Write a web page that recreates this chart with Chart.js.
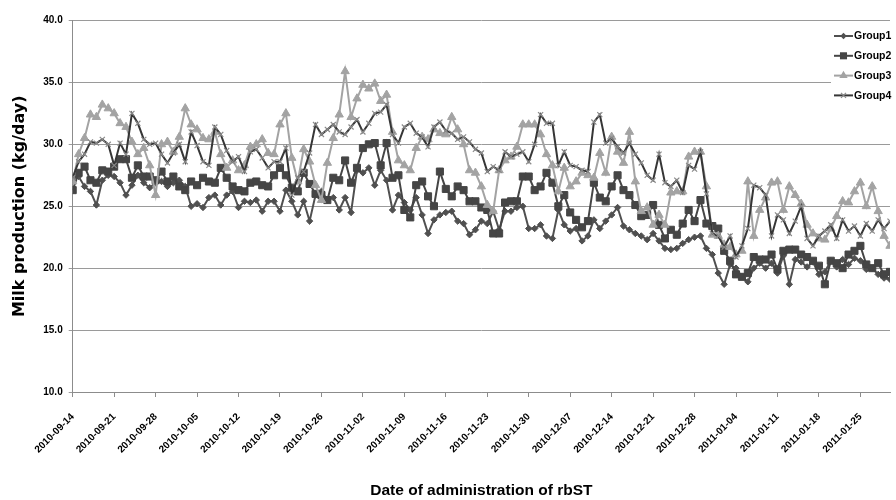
<!DOCTYPE html>
<html><head><meta charset="utf-8">
<style>html,body{margin:0;padding:0;background:#fff;}#wrap{width:896px;height:500px;position:relative;}</style>
<script src="https://cdn.jsdelivr.net/npm/chart.js@4.4.1/dist/chart.umd.min.js"></script>
</head><body><div id="wrap"><canvas id="c" width="896" height="500"></canvas></div>
<script>
// ---- data ----
const xTickLabels = ['2010-09-14','2010-09-21','2010-09-28','2010-10-05','2010-10-12','2010-10-19','2010-10-26','2010-11-02','2010-11-09','2010-11-16','2010-11-23','2010-11-30','2010-12-07','2010-12-14','2010-12-21','2010-12-28','2011-01-04','2011-01-11','2011-01-18','2011-01-25'];
const yTickLabels = ['10.0','15.0','20.0','25.0','30.0','35.0','40.0'];
const seriesNames = ['Group1','Group2','Group3','Group4'];
const group1 = [27.3,27.4,26.6,26.2,25.1,27.1,27.5,27.4,26.9,25.9,26.7,27.5,26.9,26.5,26.9,27.0,26.6,26.9,27.1,26.6,25.0,25.2,
24.9,25.7,25.9,25.1,25.9,26.2,24.9,25.4,25.3,25.5,24.6,25.4,25.4,24.6,26.3,25.4,24.3,25.4,23.8,25.9,26.2,
25.5,25.7,24.7,25.7,24.5,27.9,27.7,28.1,26.7,27.9,27.1,24.7,25.9,25.3,24.7,25.7,24.3,22.8,23.9,24.3,24.5,
24.6,23.8,23.6,22.7,23.1,23.8,23.6,24.6,23.1,24.6,24.6,24.9,25.0,23.2,23.2,23.5,22.6,22.4,24.7,23.5,23.0,
23.2,22.2,22.6,23.9,23.2,23.8,24.3,24.9,23.4,23.1,22.8,22.6,22.3,22.8,22.2,21.6,21.5,21.6,22.0,22.3,22.5,
22.6,21.6,21.1,19.6,18.7,20.3,20.0,19.3,18.9,20.0,20.4,20.0,20.4,19.6,21.0,18.7,20.7,20.5,20.1,20.5,19.5,
19.7,20.6,20.1,20.7,20.3,20.8,20.6,19.9,20.0,19.5,19.2,19.1];
const group2 = [26.3,27.7,28.2,27.1,26.9,27.9,27.8,28.2,28.8,28.8,27.3,28.3,27.4,27.4,27.1,27.8,27.0,27.4,26.6,26.3,27.0,26.7,
27.3,27.0,26.9,28.1,27.3,26.6,26.3,26.2,26.9,27.0,26.7,26.6,27.5,28.1,27.5,26.5,26.2,27.7,26.8,26.0,25.9,
25.5,27.3,27.1,28.7,26.9,28.1,29.7,30.0,30.1,28.3,30.1,27.3,27.5,24.7,24.1,26.7,27.0,25.8,25.0,27.8,26.4,
25.8,26.6,26.3,25.4,25.4,24.9,24.7,22.8,22.8,25.3,25.4,25.4,27.4,27.4,26.3,26.6,27.7,26.9,25.0,25.9,24.5,
23.9,23.3,23.8,26.9,25.7,25.4,26.6,27.5,26.3,25.9,25.1,24.2,24.3,25.1,23.5,22.4,23.1,22.7,23.6,24.7,23.8,
25.5,23.6,23.4,23.2,21.4,20.6,19.5,19.3,19.6,20.9,20.7,20.7,21.1,19.9,21.4,21.5,21.5,21.1,20.9,20.6,20.2,
18.7,20.6,20.4,20.0,21.1,21.4,21.8,20.3,20.0,20.4,19.5,19.7];
const group3 = [27.0,29.2,30.5,32.4,32.2,33.2,32.9,32.5,31.7,31.4,30.2,29.2,29.7,28.3,25.9,30.0,30.2,29.4,30.6,32.9,31.6,31.2,
30.5,30.4,31.0,29.2,28.1,28.7,27.9,28.3,29.8,30.0,30.4,29.3,29.2,31.6,32.5,28.9,27.0,29.6,28.6,26.7,25.5,
28.5,30.5,32.4,35.9,32.2,33.7,34.8,34.5,34.9,33.5,34.0,31.0,28.7,28.3,27.9,29.7,30.6,30.4,31.2,30.9,30.8,
32.2,31.2,30.0,27.9,27.7,26.6,25.1,24.6,27.9,28.7,29.0,29.8,31.6,31.6,31.6,30.8,29.2,28.3,26.2,28.1,26.6,
27.0,27.7,27.5,27.3,29.3,27.7,30.6,29.4,28.5,31.0,27.0,24.6,24.9,23.5,24.3,23.5,26.1,26.2,26.2,29.0,29.4,
29.4,26.6,22.7,22.6,21.9,21.7,21.1,21.4,27.0,22.6,24.7,25.7,26.9,27.0,24.7,26.6,25.9,25.2,23.5,22.8,22.4,
22.3,23.2,24.2,25.4,25.3,26.2,26.9,25.0,26.6,24.6,22.6,21.8];
const group4 = [27.3,28.6,29.2,30.2,30.1,30.4,30.0,28.3,30.1,29.2,32.5,31.7,30.4,30.0,30.1,29.2,28.5,29.3,30.0,28.6,31.0,29.9,
28.6,28.3,31.4,30.8,29.5,28.6,29.0,27.8,29.4,29.6,28.9,28.1,28.6,28.6,29.7,25.9,27.3,27.8,29.3,31.6,30.8,
31.2,31.6,31.0,30.8,31.4,32.0,31.0,31.7,32.5,32.6,33.2,30.8,30.1,31.4,31.7,30.9,30.6,29.8,31.4,31.8,31.1,
30.9,30.4,30.6,30.2,29.6,29.3,27.8,28.2,27.9,29.4,29.0,29.2,29.4,28.6,30.0,32.4,31.7,31.7,28.3,29.4,28.3,
28.2,27.9,27.8,31.8,32.4,30.1,30.5,29.8,29.3,30.1,29.2,28.5,27.5,27.1,29.2,26.9,26.6,27.1,26.1,28.3,28.0,
29.4,26.0,22.8,22.6,21.7,22.6,20.9,21.8,23.2,26.7,26.5,25.9,22.6,24.3,23.9,22.8,23.8,25.0,22.4,21.8,22.6,
23.0,23.5,22.4,23.9,23.0,23.4,22.6,23.6,23.0,23.9,23.2,23.8];

// ---- styles ----
const styles = [
  {line:'#505050', fill:'#505050', point:'rectRot', r:3.2, pw:1, order:4},
  {line:'#454545', fill:'#454545', point:'rect', r:5, pw:1, order:3},
  {line:'#a3a3a3', fill:'#a3a3a3', point:'triangle', r:4.8, pw:1, order:2},
  {line:'#363636', fill:'#8a8a8a', point:'crossRot', r:3.6, pw:1.2, order:1}
];
const allSeries = [group1, group2, group3, group4];
const datasets = allSeries.map((arr, k) => ({
  label: seriesNames[k],
  data: arr.map((v, i) => ({x: i, y: v})),
  borderColor: styles[k].line,
  backgroundColor: styles[k].fill,
  pointBackgroundColor: styles[k].fill,
  pointBorderColor: styles[k].fill,
  pointBorderWidth: styles[k].pw,
  pointStyle: styles[k].point,
  pointRadius: styles[k].r,
  borderWidth: 2,
  tension: 0,
  order: styles[k].order
}));

function drawMarker(ctx, style, x, y, r, fill) {
  ctx.save();
  ctx.fillStyle = fill; ctx.strokeStyle = fill; ctx.lineWidth = 1.2;
  ctx.beginPath();
  if (style === 'rectRot') {
    ctx.moveTo(x, y - r); ctx.lineTo(x + r, y); ctx.lineTo(x, y + r); ctx.lineTo(x - r, y); ctx.closePath(); ctx.fill();
  } else if (style === 'rect') {
    const s = r * Math.SQRT1_2; ctx.rect(x - s, y - s, 2 * s, 2 * s); ctx.fill();
  } else if (style === 'triangle') {
    ctx.moveTo(x, y - r); ctx.lineTo(x + r * 0.866, y + r * 0.5); ctx.lineTo(x - r * 0.866, y + r * 0.5); ctx.closePath(); ctx.fill();
  } else {
    const s = r * Math.SQRT1_2;
    ctx.moveTo(x - s, y - s); ctx.lineTo(x + s, y + s); ctx.moveTo(x + s, y - s); ctx.lineTo(x - s, y + s); ctx.stroke();
  }
  ctx.restore();
}

const legendBox = {
  id: 'legendBox',
  afterDatasetsDraw(chart) {
    const ctx = chart.ctx;
    ctx.save();
    ctx.fillStyle = '#ffffff';
    ctx.fillRect(831, 24, 65, 82);
    seriesNames.forEach((name, k) => {
      const y = 36 + k * 19.8;
      ctx.strokeStyle = styles[k].line; ctx.lineWidth = 2;
      ctx.beginPath(); ctx.moveTo(834, y); ctx.lineTo(853, y); ctx.stroke();
      drawMarker(ctx, styles[k].point, 843.5, y, styles[k].r, styles[k].fill);
      ctx.fillStyle = '#000';
      ctx.font = 'bold 10.5px "Liberation Sans", sans-serif';
      ctx.textBaseline = 'middle'; ctx.textAlign = 'left';
      ctx.fillText(name, 854, y + 0.5);
    });
    ctx.restore();
  }
};

new Chart(document.getElementById('c'), {
  type: 'line',
  data: { datasets },
  plugins: [legendBox],
  options: {
    responsive: false, animation: false, devicePixelRatio: 1, events: [],
    layout: { padding: { top: 20.5, right: 0, left: 0, bottom: 0 } },
    plugins: { legend: { display: false }, tooltip: { enabled: false } },
    scales: {
      x: {
        type: 'linear', min: 0, max: group1.length - 1,
        afterFit(s) { s.height = 108; s.paddingLeft = 0; s.paddingRight = 0; },
        grid: { drawOnChartArea: false, drawTicks: true, tickLength: 5, color: '#8c8c8c' },
        border: { display: true, color: '#8c8c8c', width: 1 },
        ticks: {
          stepSize: 7, includeBounds: false, autoSkip: false,
          minRotation: 45, maxRotation: 45, padding: 14,
          color: '#000', font: { family: '"Liberation Sans", sans-serif', weight: 'bold', size: 10 },
          callback: v => xTickLabels[Math.round(v / 7)]
        },
        title: { display: true, text: 'Date of administration of rbST', color: '#000',
          font: { family: '"Liberation Sans", sans-serif', weight: 'bold', size: 15.5, lineHeight: 1 },
          padding: { top: 0, bottom: 2 } }
      },
      y: {
        min: 10, max: 40,
        afterFit(s) { s.width = 72.7; },
        grid: { color: '#9a9a9a', lineWidth: 1, tickLength: 4, drawTicks: true },
        border: { display: true, color: '#8c8c8c', width: 1 },
        ticks: {
          stepSize: 5, padding: 6, color: '#000',
          font: { family: '"Liberation Sans", sans-serif', weight: 'bold', size: 10 },
          callback: v => yTickLabels[Math.round((v - 10) / 5)]
        },
        title: { display: true, text: 'Milk production (kg/day)', color: '#000',
          font: { family: '"DejaVu Sans", sans-serif', weight: 'bold', size: 16, lineHeight: 1 },
          padding: { top: 12, bottom: 0 } }
      }
    }
  }
});
</script>
</body></html>
